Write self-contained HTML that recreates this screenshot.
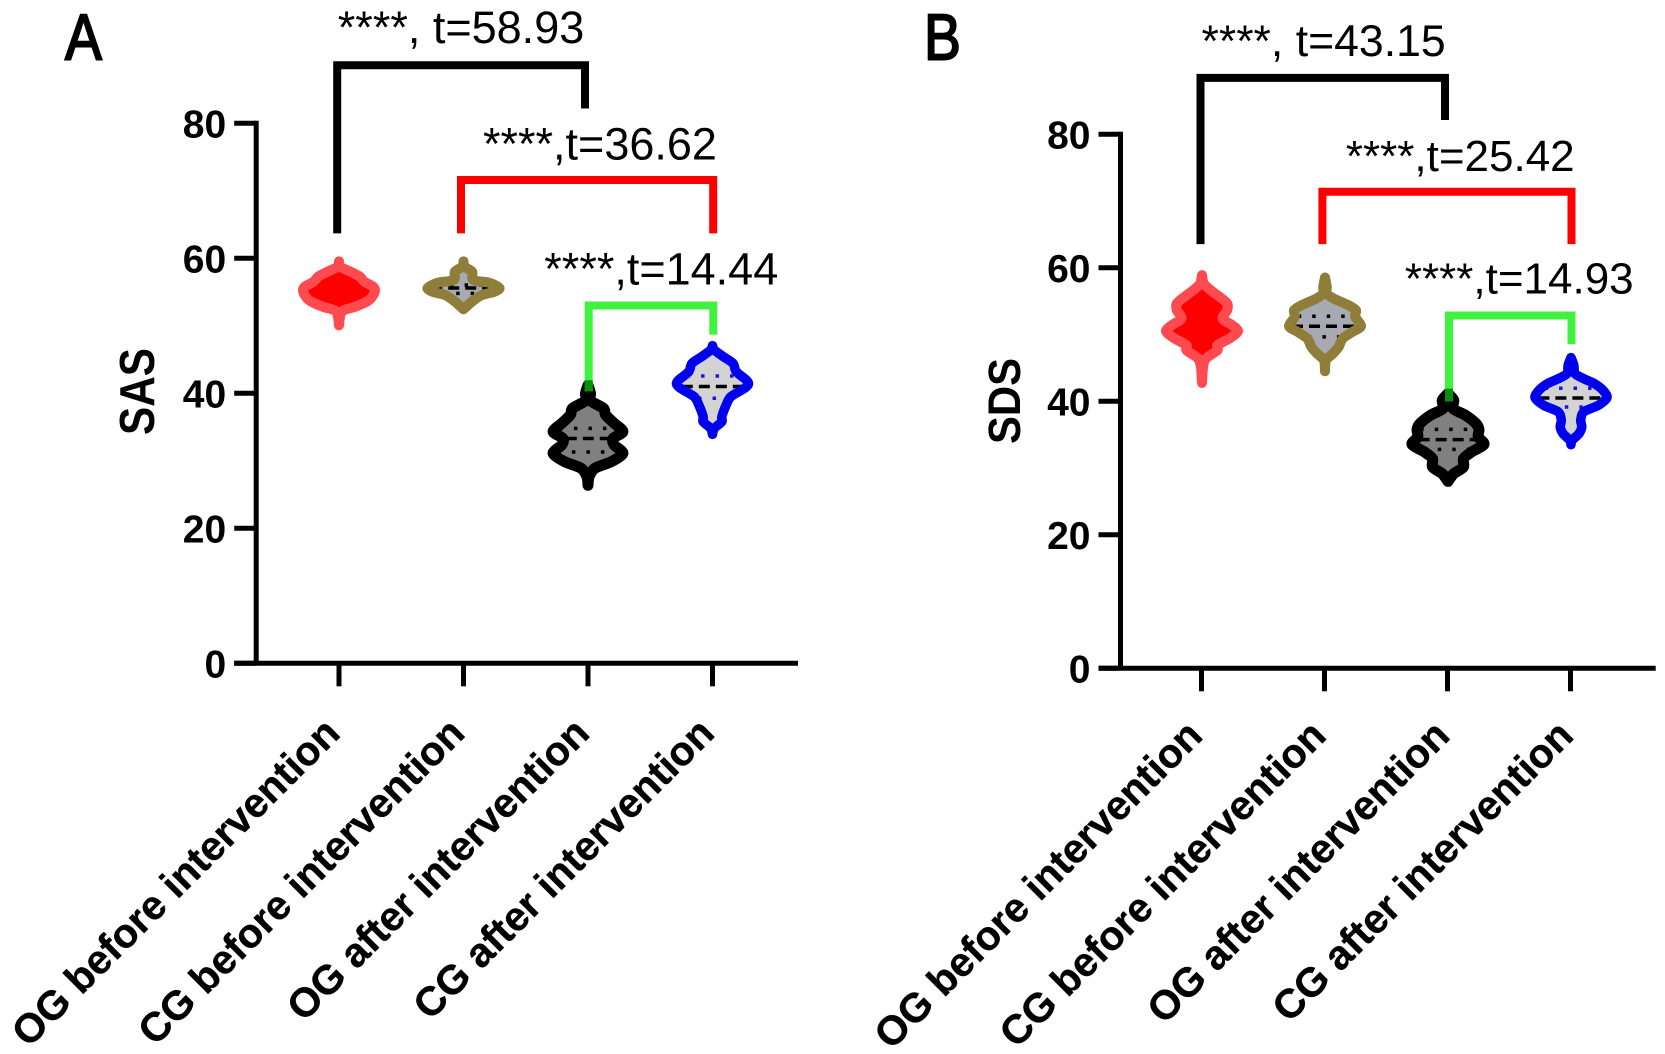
<!DOCTYPE html>
<html lang="en">
<head>
<meta charset="utf-8">
<title>SAS and SDS violin plots</title>
<style>
  html, body { margin: 0; padding: 0; background: #fff; }
  svg { display: block; font-family: "Liberation Sans", sans-serif; }
</style>
</head>
<body>
<svg id="figure" xmlns="http://www.w3.org/2000/svg" width="1665" height="1054" viewBox="0 0 1665 1054"></svg>
<script>
// ---- shared categorical data ----
const categories = ["OG before intervention", "CG before intervention", "OG after intervention", "CG after intervention"];
const yTicks = [0, 20, 40, 60, 80];

// ---- panel A (SAS): violin levels and relative density (0-100) ----
const sasLevels = [
  [59.55,58.76,58.02,57.28,56.54,55.8,55.2,54.3,53.6,52.83,52.1,50.07],
  [59.55,58.76,58.02,56.8,56.4,55.9,55.5,55.0,54.56,53.6,52.44],
  [41.2,40.0,38.9,37.78,36.79,35.55,34.32,33.33,32.34,31.11,29.87,28.89,27.65,26.37],
  [47.06,46.42,45.43,44.44,43.21,41.97,41.38,40.74,39.5,38.27,36.54,35.8,34.8,33.92]
];
const sasDensity = [
  [0,3,32,58,70,95,100,92,78,45,8,0],
  [0,3,24,27,70,92,100,84,51,24,0],
  [0,7,7,43,49,73,97,70,73,97,65,19,3,0],
  [0,5,30,57,66,94,100,89,51,38,26,26,5,0]
];
const sasMedian = [55.0, 55.6, 33.3, 41.0];
const sasQ1 = [53.8, 54.8, 31.3, 39.26];
const sasQ3 = [56.2, 56.04, 34.8, 42.57];

// ---- panel B (SDS): violin levels and relative density (0-100) ----
const sdsLevels = [
  [58.9,57.65,56.65,55.65,54.65,53.65,52.4,51.4,50.5,49.4,48.4,47.65,46.4,45.15,42.75],
  [58.55,57.15,56.15,55.4,54.4,53.65,52.65,51.25,50.4,49.4,48.15,47.15,46.15,44.5],
  [41.15,40.15,38.9,37.9,36.65,35.75,34.65,33.55,32.4,31.4,30.15,29.15,28.0],
  [46.55,45.4,44.15,43.4,42.65,41.65,40.55,39.4,38.4,37.15,36.15,35.15,34.15,33.5]
];
const sdsDensity = [
  [0,5,24,49,70,70,57,84,100,76,43,43,11,3,0],
  [0,5,5,24,65,86,84,100,76,49,38,22,3,0],
  [0,16,14,49,78,86,84,100,65,43,43,16,0],
  [0,8,11,35,65,89,100,76,35,27,30,22,3,0]
];
const sdsMedian = [50.6, 51.25, 34.25, 40.5];
const sdsQ1 = [48.5, 49.65, 32.8, 39.15];
const sdsQ3 = [53.5, 52.75, 35.8, 41.95];

// ---- significance annotations ----
const sasSigLabels = ["****, t=58.93", "****,t=36.62", "****,t=14.44"];
const sdsSigLabels = ["****, t=43.15", "****,t=25.42", "****,t=14.93"];
const sasBracketTop = [88.6, 71.6, 53.0];
const sasBracketFootLeft = [63.7, 63.7, 40.3];
const sasBracketFootRight = [82.2, 63.7, 48.7];
const sdsBracketTop = [88.45, 71.4, 52.85];
const sdsBracketFootLeft = [63.55, 63.55, 40.0];
const sdsBracketFootRight = [82.15, 63.55, 48.55];

// ---- styling ----
const violinStroke = ["#ff4a4f", "#8f7d3a", "#000000", "#0000ee"];
const violinFill = ["#ff0000", "#a9a9b2", "#808080", "#d3d3d3"];
const violinStrokeWidth = [10, 10, 11, 9.5];
const quartileStroke = ["#ff0000", "#000000", "#000000", "#1a1acc"];
const medianStroke = ["#ff0000", "#000000", "#000000", "#000000"];
const bracketStroke = ["#000000", "#ff0000", "#40f23f"];

const NS = "http://www.w3.org/2000/svg";
const root = document.getElementById("figure");

function make(tag, parent, attrs) {
  const el = document.createElementNS(NS, tag);
  for (const k in attrs) el.setAttribute(k, attrs[k]);
  parent.appendChild(el);
  return el;
}

function smoothPath(pts) {
  let d = "";
  for (let i = 0; i < pts.length - 1; i++) {
    const p0 = pts[Math.max(i - 1, 0)], p1 = pts[i], p2 = pts[i + 1], p3 = pts[Math.min(i + 2, pts.length - 1)];
    const k = 0.14;
    d += " C" + (p1[0] + (p2[0] - p0[0]) * k).toFixed(2) + " " + (p1[1] + (p2[1] - p0[1]) * k).toFixed(2) +
         " " + (p2[0] - (p3[0] - p1[0]) * k).toFixed(2) + " " + (p2[1] - (p3[1] - p1[1]) * k).toFixed(2) +
         " " + p2[0].toFixed(2) + " " + p2[1].toFixed(2);
  }
  return d;
}

function densityAt(levels, density, v) {
  for (let i = 0; i < levels.length - 1; i++) {
    if (v <= levels[i] && v >= levels[i + 1]) {
      const t = (levels[i] - v) / (levels[i] - levels[i + 1]);
      return density[i] + (density[i + 1] - density[i]) * t;
    }
  }
  return 0;
}

function drawPanel(cfg) {
  const panel = make("g", root, {});
  
  

  const yScale = v => cfg.y0 - cfg.yUnit * v;
  const xScale = i => cfg.x0 + cfg.xStep * i;
  const violinX = i => cfg.vx0 + cfg.vxStep * i;
  const widthScale = d => d / 100 * 36;

  // panel letter
  const letter = make("text", panel, {
    transform: "translate(" + cfg.letterX + " " + cfg.letterY + ") scale(0.85 1)",
    "font-size": 65, fill: "#000", stroke: "#000", "stroke-width": 2
  });
  
  
  letter.textContent = cfg.letter;

  // y axis title
  const yt = make("text", panel, {
    transform: "translate(" + cfg.titleX + " " + cfg.titleY + ") rotate(-90)",
    "font-size": cfg.titleSize, "font-weight": 700, "text-anchor": "middle",
    textLength: cfg.titleLen, lengthAdjust: "spacingAndGlyphs", fill: "#000"
  });
  
  
  yt.textContent = cfg.title;

  // y axis
  const yAxis = make("line", panel, {
    x1: cfg.axisX, x2: cfg.axisX, y1: yScale(80) - 2.5, y2: yScale(0),
    stroke: "#000", "stroke-width": 5
  });
  
  

  yTicks.forEach(t => {
    const tick = make("line", panel, {
      x1: cfg.axisX - 22, x2: cfg.axisX, y1: yScale(t), y2: yScale(t),
      stroke: "#000", "stroke-width": 5
    });
    
    
    const lab = make("text", panel, {
      x: cfg.axisX - 30, y: yScale(t) + 14, "font-size": 39, "font-weight": 700,
      "text-anchor": "end", fill: "#000"
    });
    
    
    lab.textContent = t;
  });

  // x axis
  const xAxis = make("line", panel, {
    x1: cfg.axisX - 22, x2: cfg.axisRight, y1: yScale(0), y2: yScale(0),
    stroke: "#000", "stroke-width": 5
  });
  
  

  categories.forEach((c, i) => {
    const tick = make("line", panel, {
      x1: xScale(i), x2: xScale(i), y1: yScale(0), y2: yScale(0) + 23,
      stroke: "#000", "stroke-width": 5
    });
    
    
    const lab = make("text", panel, {
      transform: "translate(" + (cfg.labelX0 + cfg.labelStep * i) + " " + (yScale(0) + cfg.labelDrop) + ") rotate(-45)",
      "font-size": 40.7, "font-weight": 700, "text-anchor": "end", fill: "#000",
      stroke: "#000", "stroke-width": 0.4
    });
    
    
    lab.textContent = c;
  });

  // violins
  categories.forEach((c, i) => {
    const levels = cfg.levels[i], density = cfg.density[i], cx = violinX(i);
    const g = make("g", panel, {});
    
    

    const right = levels.map((v, k) => [cx + widthScale(density[k]), yScale(v)]);
    const left = levels.map((v, k) => [cx - widthScale(density[k]), yScale(v)]).reverse();
    const d = "M" + right[0][0].toFixed(2) + " " + right[0][1].toFixed(2) + smoothPath(right) + smoothPath(left) + " Z";
    const body = make("path", g, {
      d: d, fill: violinFill[i], stroke: "none"
    });
    
    

    const drawStat = (v, stroke, dash, name) => {
      const hw = Math.max(widthScale(densityAt(levels, density, v)) - 3, 0);
      const ln = make("line", g, {
        x1: cx - hw, x2: cx + hw, y1: yScale(v), y2: yScale(v),
        stroke: stroke, "stroke-width": 3.5, "stroke-dasharray": dash
      });
      
      
    };
    drawStat(cfg.median[i], medianStroke[i], "11 6", "median-line");
    drawStat(cfg.q1[i], quartileStroke[i], "3.5 11", "lower-quartile-line");
    drawStat(cfg.q3[i], quartileStroke[i], "3.5 11", "upper-quartile-line");

    const outline = make("path", g, {
      d: d, fill: "none", stroke: violinStroke[i], "stroke-width": violinStrokeWidth[i], "stroke-linejoin": "round"
    });
    
    
  });

  // brackets and significance labels
  cfg.sigLabels.forEach((s, i) => {
    const br = make("path", panel, {
      d: "M" + cfg.brLeft[i] + " " + yScale(cfg.brFootL[i]) + " V" + yScale(cfg.brTop[i]) +
         " H" + cfg.brRight[i] + " V" + yScale(cfg.brFootR[i]),
      fill: "none", stroke: bracketStroke[i],
      "stroke-width": 8, "stroke-linejoin": "miter"
    });
    
    
    const t = make("text", panel, {
      x: cfg.sigX[i], y: cfg.sigY[i], "font-size": cfg.sigSize[i], fill: "#000"
    });
    
    
    t.textContent = s;
  });

  // dark green overlap where the green bracket foot meets the black violin
  const overlap = make("line", panel, {
    x1: cfg.brLeft[2], x2: cfg.brLeft[2],
    y1: yScale(cfg.levels[2][0]) - 5, y2: yScale(cfg.brFootL[2]),
    stroke: "#0a8f0a", "stroke-width": 8
  });
  
  
}

drawPanel({
  name: "sas", letter: "A", letterX: 65, letterY: 59.3,
  title: "SAS", titleX: 154, titleY: 391.5, titleSize: 49, titleLen: 87,
  axisX: 256.2, axisRight: 798, y0: 663.3, yUnit: 6.75,
  x0: 339, xStep: 124.5, vx0: 339, vxStep: 124.5,
  labelX0: 341.9, labelStep: 124.8, labelDrop: 72,
  levels: sasLevels, density: sasDensity, median: sasMedian, q1: sasQ1, q3: sasQ3,
  sigLabels: sasSigLabels, sigX: [337.8, 483, 544.3], sigY: [43, 159.3, 284.3], sigSize: [45, 45, 45],
  brLeft: [337.2, 461, 588.7], brRight: [585, 713.2, 713.3],
  brTop: sasBracketTop, brFootL: sasBracketFootLeft, brFootR: sasBracketFootRight
});

drawPanel({
  name: "sds", letter: "B", letterX: 924, letterY: 59.3,
  title: "SDS", titleX: 1020, titleY: 401, titleSize: 45, titleLen: 86,
  axisX: 1120.5, axisRight: 1655.7, y0: 668.3, yUnit: 6.675,
  x0: 1201.5, xStep: 123, vx0: 1202, vxStep: 123,
  labelX0: 1204.5, labelStep: 123.6, labelDrop: 69.4,
  levels: sdsLevels, density: sdsDensity, median: sdsMedian, q1: sdsQ1, q3: sdsQ3,
  sigLabels: sdsSigLabels, sigX: [1201.5, 1345.9, 1404.9], sigY: [56, 171, 293.3], sigSize: [44.6, 44, 44],
  brLeft: [1200.5, 1322.4, 1449], brRight: [1445, 1571.5, 1571.5],
  brTop: sdsBracketTop, brFootL: sdsBracketFootLeft, brFootR: sdsBracketFootRight
});
</script>
</body>
</html>
